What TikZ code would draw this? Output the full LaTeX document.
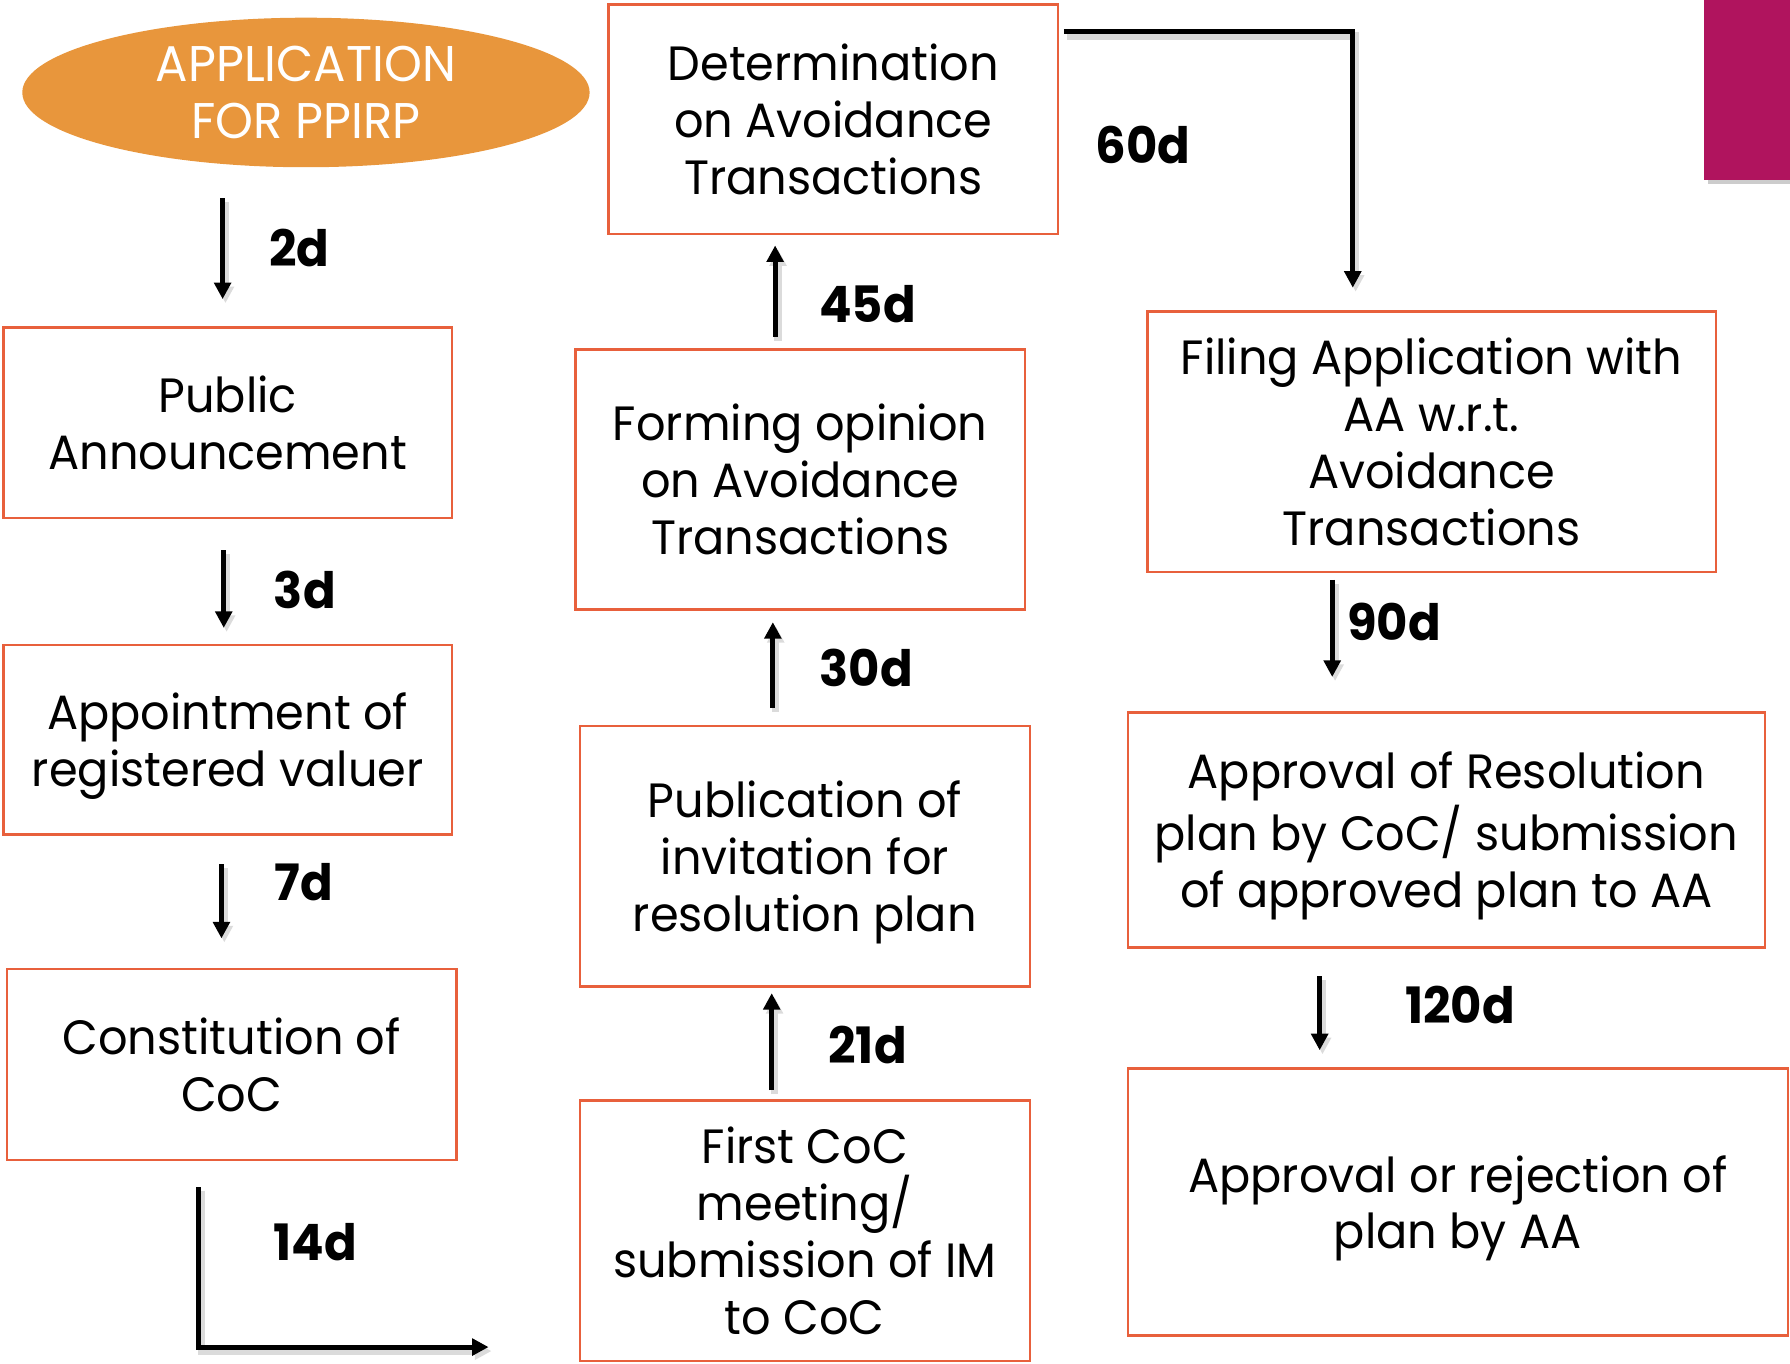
\documentclass[tikz,border=0pt]{standalone}
\usepackage{fontspec}
\setmainfont{Poppins}[FakeStretch=0.96]
\usetikzlibrary{arrows.meta,calc,shapes.geometric}
\definecolor{boxline}{HTML}{E8603C}
\definecolor{ellfill}{HTML}{E8963C}
\definecolor{accentmag}{HTML}{B0145E}
\begin{document}
\begin{tikzpicture}[x=0.1mm,y=-0.1mm,
  box/.style={draw=boxline,line width=0.6pt,inner sep=0pt,outer sep=0pt,
    align=center,text depth=0pt,font=\fontsize{12}{14.2}\selectfont},
  ell/.style={ellipse,fill=ellfill,inner sep=0pt,outer sep=0pt,
    minimum width=49.7mm,minimum height=13.1mm,text=white,align=center,
    font=\fontsize{12.5}{14}\selectfont},
  arr/.style={line width=1.25pt,-{Triangle[length=1.45mm,width=1.45mm]},
    preaction={draw=black!14,line width=1.8pt,
      transform canvas={shift={(0.25mm,-0.35mm)}}}},
  lbl/.style={font=\fontsize{12.5}{14}\selectfont\bfseries,inner sep=0pt}]
\useasboundingbox (0,0) rectangle (1568,1194);
% accent block
\fill[black!20] (1496,3) rectangle (1568,161);
\fill[accentmag] (1493,0) rectangle (1568,158);
% nodes
\node[ell] (app) at (268,81) {APPLICATION\\FOR PPIRP};
\node[box,minimum width=39.3mm,minimum height=16.7mm] (pa) at (199.5,370.5) {Public\\Announcement};
\node[box,minimum width=39.3mm,minimum height=16.6mm] (av) at (199.5,648) {Appointment of\\registered valuer};
\node[box,minimum width=39.4mm,minimum height=16.7mm] (cc) at (203,932.5) {Constitution of\\CoC};
\node[box,minimum width=39.4mm,minimum height=20.1mm] (dt) at (730,104.5) {Determination\\on Avoidance\\Transactions};
\node[box,minimum width=39.4mm,minimum height=22.8mm] (fo) at (701,420) {Forming opinion\\on Avoidance\\Transactions};
\node[box,minimum width=39.4mm,minimum height=22.8mm] (pub) at (705,750) {Publication of\\invitation for\\resolution plan};
\node[box,minimum width=39.4mm,minimum height=22.8mm] (fc) at (705,1078) {First CoC\\meeting/\\submission of IM\\to CoC};
\node[box,minimum width=49.8mm,minimum height=22.8mm] (fa) at (1254,387) {Filing Application with\\AA w.r.t.\\Avoidance\\Transactions};
\node[box,minimum width=55.8mm,minimum height=20.6mm] (ar) at (1267,727) {Approval of Resolution\\plan by CoC/ submission\\of approved plan to AA};
\node[box,minimum width=57.8mm,minimum height=23.4mm] (aj) at (1277,1053) {Approval or rejection of\\plan by AA};
% arrow columns
\coordinate (x2d) at (195,0);
\coordinate (x3d) at (196,0);
\coordinate (x7d) at (194,0);
\coordinate (x14) at (174,0);
\coordinate (e14) at (428,1180);
\coordinate (x21) at (676,0);
\coordinate (x30) at (677,0);
\coordinate (x45) at (679,0);
\coordinate (y60) at (0,28);
\coordinate (x60) at (1185,0);
\coordinate (x90) at (1167,0);
\coordinate (x120) at (1156,0);
% connectors
\draw[arr,shorten <=2.7mm,shorten >=2.5mm] (app.south -| x2d) -- (pa.north -| x2d);
\draw[arr,shorten <=2.8mm,shorten >=1.5mm] (pa.south -| x3d) -- (av.north -| x3d);
\draw[arr,shorten <=2.6mm,shorten >=2.7mm] (av.south -| x7d) -- (cc.north -| x7d);
\draw[arr,shorten <=2.4mm] (cc.south -| x14) |- (e14);
\draw[arr,shorten <=0.9mm,shorten >=0.6mm] (fc.north -| x21) -- (pub.south -| x21);
\draw[arr,shorten <=1.6mm,shorten >=1.1mm] (pub.north -| x30) -- (fo.south -| x30);
\draw[arr,shorten <=1.1mm,shorten >=1.0mm] (fo.north -| x45) -- (dt.south -| x45);
\draw[arr,shorten <=0.5mm,shorten >=2.1mm] (dt.east |- y60) -| (fa.north -| x60);
\draw[arr,shorten <=0.7mm,shorten >=3.1mm] (fa.south -| x90) -- (ar.north -| x90);
\draw[arr,shorten <=2.5mm,shorten >=1.6mm] (ar.south -| x120) -- (aj.north -| x120);
% labels
\node[lbl] (l2) at (262,217) {2d};
\node[lbl] (l3) at (267,517) {3d};
\node[lbl] (l7) at (266,773) {7d};
\node[lbl] (l14) at (276,1088) {14d};
\node[lbl] (l21) at (760,915) {21d};
\node[lbl] (l30) at (759,585) {30d};
\node[lbl] (l45) at (760,266) {45d};
\node[lbl] (l60) at (1001,127) {60d};
\node[lbl] (l90) at (1221,545) {90d};
\node[lbl] (l120) at (1279,880) {120d};
\end{tikzpicture}
\end{document}
